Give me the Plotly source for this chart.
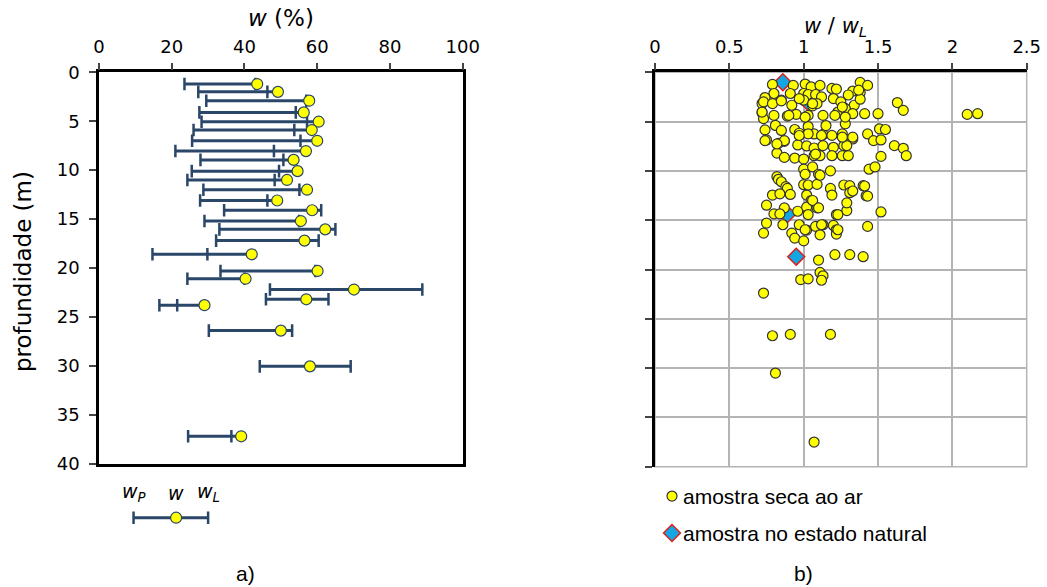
import plotly.graph_objects as go

# ---------------- data: panel a) ----------------
depth_a = [1.2, 2.0, 2.9, 4.1, 5.05, 5.9, 7.0, 8.05, 8.95, 10.1, 11.0, 12.0, 13.1,
           14.1, 15.2, 16.05, 17.2, 18.6, 20.3, 21.1, 22.2, 23.2, 23.8, 26.4, 30.05, 37.2]
w_p = [23.5, 27.3, 29.5, 27.6, 28.2, 26.0, 25.6, 21.0, 27.9, 25.5, 24.3, 28.7, 27.8,
       34.4, 29.0, 33.1, 32.2, 14.7, 33.4, 24.3, 47.0, 45.9, 16.6, 30.2, 44.2, 24.5]
w_nat = [43.5, 49.2, 57.8, 56.3, 60.4, 58.5, 60.0, 56.9, 53.5, 54.6, 51.7, 57.2, 49.0,
         58.6, 55.5, 62.2, 56.5, 42.0, 60.1, 40.3, 70.1, 57.0, 29.0, 50.0, 58.0, 39.1]
w_l = [43.0, 46.3, 57.0, 54.1, 57.2, 53.7, 55.4, 48.1, 50.7, 49.5, 48.3, 55.1, 46.3,
       61.1, 55.0, 65.0, 60.4, 29.8, 59.5, 40.0, 88.9, 63.1, 21.5, 53.1, 69.2, 36.4]

# key sample (wP, w, wL)
key_vals = [9.5, 21.2, 30.0]
key_labels = ["<i>w<sub>P</sub></i>", "<i>w</i>", "<i>w<sub>L</sub></i>"]

# ---------------- data: panel b) ----------------
ratio_air = [0.79, 0.93, 1.01, 1.05, 1.11, 1.19, 1.22, 1.38, 1.43, 1.33, 1.30, 1.38, 0.80, 0.74,
             0.72, 0.85, 0.91, 1.00, 1.03, 1.08, 1.12, 1.00, 0.92, 1.06, 1.09, 1.20, 1.25, 1.27,
             1.34, 1.38, 1.41, 1.50, 1.63, 1.67, 2.10, 2.17, 0.72, 0.73, 0.80, 0.89, 0.95, 1.03,
             1.13, 1.23, 1.28, 1.33, 0.74, 0.75, 0.81, 0.85, 0.87, 0.83, 0.94, 0.97, 1.03, 1.07,
             1.13, 1.19, 1.26, 1.28, 1.33, 1.15, 0.96, 1.02, 1.07, 1.13, 1.20, 1.27, 1.43, 1.51,
             1.55, 1.47, 1.52, 1.61, 1.67, 1.69, 1.52, 0.82, 0.87, 0.94, 1.00, 1.07, 1.11, 1.19,
             1.26, 1.30, 1.00, 1.06, 1.10, 1.18, 1.44, 1.48, 0.82, 0.83, 0.85, 0.88, 1.00, 1.03,
             1.09, 1.18, 1.27, 1.31, 1.40,
             0.89, 0.79, 0.84, 0.91, 1.02, 1.05, 1.19, 1.31, 1.42, 0.75, 0.80, 0.87, 0.84, 0.96,
             1.02, 1.03, 1.09, 1.22, 1.29, 1.29, 1.52, 0.75, 0.73, 0.86, 0.92, 0.94, 0.97, 1.02,
             1.00, 1.08, 1.11, 1.13, 1.20, 1.22, 1.22, 1.43, 1.10, 1.21, 1.31, 1.40, 1.11, 1.13,
             1.12, 0.98, 1.03, 0.73, 0.79, 0.91, 1.18, 0.81, 1.07,
             0.73, 0.72, 0.79, 0.85, 0.97, 1.06, 1.26, 0.90, 1.01, 1.21, 1.28, 1.37,
             0.74, 0.87, 0.82, 1.08, 1.29, 1.26, 1.33, 1.12, 1.03, 0.97, 1.01, 1.11,
             1.06, 1.10, 1.33, 1.41, 1.43, 1.23, 1.12, 1.01, 1.23]
depth_air = [1.23, 1.33, 1.19, 1.47, 1.33, 1.64, 1.70, 1.02, 1.33, 1.90, 2.30, 2.05, 2.15, 2.56,
             3.17, 2.83, 2.15, 2.15, 2.25, 2.25, 2.50, 2.83, 3.34, 3.40, 3.17, 2.66, 3.00, 3.60,
             3.34, 2.73, 4.20, 4.20, 3.07, 3.86, 4.27, 4.20, 4.10, 4.70, 4.37, 4.44, 4.27, 4.37,
             4.37, 4.03, 3.69, 4.20, 5.84, 6.86, 5.39, 5.90, 7.00, 7.20, 5.80, 6.18, 5.50, 6.25,
             6.30, 6.40, 6.25, 5.22, 6.76, 5.40, 7.37, 7.47, 7.68, 7.44, 7.61, 7.44, 6.25, 5.73,
             5.80, 6.93, 6.86, 7.44, 7.71, 8.46, 8.53, 8.19, 8.63, 8.70, 8.80, 8.46, 8.46, 8.46,
             8.46, 8.46, 9.83, 9.60, 10.34, 10.00, 9.83, 9.60, 10.58, 10.85, 11.10, 11.60, 11.40, 11.43,
             11.37, 11.78, 11.43, 11.50, 11.50,
             11.77, 12.45, 12.32, 12.39, 12.45, 13.00, 12.45, 12.21, 12.52, 13.48, 14.36, 13.75, 14.36, 14.09,
             13.68, 14.43, 13.75, 14.43, 14.02, 13.24, 14.16, 15.29, 16.31, 15.46, 16.31, 16.82, 15.46, 16.00,
             17.10, 15.63, 16.48, 15.46, 15.53, 15.97, 16.41, 15.63, 19.04, 18.49, 18.49, 18.70, 20.30, 20.64,
             21.09, 21.02, 20.95, 22.39, 26.72, 26.58, 26.58, 30.50, 37.50,
             3.00, 4.03, 3.18, 2.90, 2.66, 3.18, 3.52, 4.37, 4.54, 4.37, 4.54, 1.81,
             6.93, 6.93, 7.27, 8.29, 7.44, 6.58, 6.58, 6.41, 6.24, 6.41, 10.34, 10.44,
             13.00, 13.75, 12.04, 11.53, 12.56, 14.43, 15.46, 15.97, 15.97]

ratio_nat = [1.04, 0.89, 0.86, 0.95]
depth_nat = [3.2, 14.4, 1.0, 18.7]

legend_labels = ["amostra seca ao ar", "amostra no estado natural"]

# ---------------- styles ----------------
NAVY = "#2a4668"
YELLOW = "#ffff00"
W, H = 1047, 587
TICK_FONT = dict(family="DejaVu Sans", size=18, color="black")
TITLE_FONT = dict(family="DejaVu Sans", size=23, color="black")
TITLE2_FONT = dict(family="DejaVu Sans", size=21, color="black")
TEXT_FONT = dict(family="Liberation Sans", size=21, color="black")

AIR_MARKER = dict(symbol="circle", size=10, color=YELLOW, line=dict(color="#333333", width=1.2))
NAT_MARKER = dict(symbol="diamond", size=13, color="#12a6e2", line=dict(color="#e0201b", width=1.5))


def px_x(p):
    return p / W


def px_y(p):
    return 1 - p / H


fig = go.Figure()

# error-bar style segments (wP .. wL, extended to w)
seg_x, seg_y = [], []
for d, a, b, c in zip(depth_a, w_p, w_nat, w_l):
    seg_x += [min(a, b, c), max(a, b, c), None]
    seg_y += [d, d, None]
fig.add_trace(go.Scatter(x=seg_x, y=seg_y, mode="lines", xaxis="x", yaxis="y",
                         line=dict(color=NAVY, width=3), showlegend=False, hoverinfo="skip"))
fig.add_trace(go.Scatter(x=w_p + w_l, y=depth_a + depth_a, mode="markers", xaxis="x", yaxis="y",
                         marker=dict(symbol="line-ns", size=9, line=dict(color=NAVY, width=2.5)),
                         showlegend=False, hoverinfo="skip"))
fig.add_trace(go.Scatter(x=w_nat, y=depth_a, mode="markers", xaxis="x", yaxis="y",
                         marker=dict(symbol="circle", size=11, color=YELLOW,
                                     line=dict(color=NAVY, width=1.2)),
                         showlegend=False))

# key below panel a)
fig.add_trace(go.Scatter(x=[key_vals[0], key_vals[2]], y=[0.5, 0.5], mode="lines",
                         xaxis="x", yaxis="y3", line=dict(color=NAVY, width=3),
                         showlegend=False, hoverinfo="skip"))
fig.add_trace(go.Scatter(x=[key_vals[0], key_vals[2]], y=[0.5, 0.5], mode="markers",
                         xaxis="x", yaxis="y3",
                         marker=dict(symbol="line-ns", size=9, line=dict(color=NAVY, width=2.5)),
                         showlegend=False, hoverinfo="skip"))
fig.add_trace(go.Scatter(x=[key_vals[1]], y=[0.5], mode="markers", xaxis="x", yaxis="y3",
                         marker=dict(symbol="circle", size=11, color=YELLOW,
                                     line=dict(color=NAVY, width=1.2)),
                         showlegend=False, hoverinfo="skip"))

# panel b)
fig.add_trace(go.Scatter(x=ratio_nat, y=depth_nat, mode="markers", xaxis="x2", yaxis="y2",
                         name=legend_labels[1], marker=NAT_MARKER, showlegend=False))
fig.add_trace(go.Scatter(x=ratio_air, y=depth_air, mode="markers", xaxis="x2", yaxis="y2",
                         name=legend_labels[0], marker=AIR_MARKER, showlegend=False))

# legend for panel b) (symbols on a hidden helper axis, text as annotations)
fig.add_trace(go.Scatter(x=[0], y=[1], mode="markers", xaxis="x4", yaxis="y4",
                         marker=AIR_MARKER, showlegend=False, hoverinfo="skip"))
fig.add_trace(go.Scatter(x=[0], y=[0], mode="markers", xaxis="x4", yaxis="y4",
                         marker=NAT_MARKER, showlegend=False, hoverinfo="skip"))

y_top = px_y(72.3)
fig.update_layout(
    width=W, height=H,
    margin=dict(l=0, r=0, t=0, b=0, autoexpand=False),
    paper_bgcolor="white", plot_bgcolor="white",
    showlegend=False,
    xaxis=dict(domain=[px_x(99), px_x(462.7)], range=[0, 100], dtick=20, side="top",
               anchor="y", showline=True, linecolor="black", linewidth=2.5, mirror=True,
               ticks="outside", ticklen=7, tickwidth=1.5, tickcolor="#444",
               showgrid=False, zeroline=False, tickfont=TICK_FONT, automargin=False,
               ticklabelstandoff=2),
    yaxis=dict(domain=[px_y(463.7), y_top], range=[40, 0], dtick=5, anchor="x",
               showline=True, linecolor="black", linewidth=2.5, mirror=True,
               ticks="outside", ticklen=7, tickwidth=1.5, tickcolor="#444",
               showgrid=False, zeroline=False, tickfont=TICK_FONT, ticklabelstandoff=6,
               automargin=False),
    yaxis3=dict(domain=[px_y(542.7), px_y(492.7)], range=[0, 1], anchor="x", visible=False),
    xaxis2=dict(domain=[px_x(655), px_x(1026.7)], range=[0, 2.5], dtick=0.5, side="top",
                anchor="y2", showline=True, linecolor="black", linewidth=2.5,
                ticks="outside", ticklen=7, tickwidth=1.5, tickcolor="#444",
                showgrid=True, gridcolor="#b4b4b4", gridwidth=1.5, zeroline=False,
                tickfont=TICK_FONT, automargin=False, ticklabelstandoff=2),
    yaxis2=dict(domain=[px_y(466.7), y_top], range=[40, 0], dtick=5, anchor="x2",
                showline=True, linecolor="black", linewidth=2.5, showticklabels=False,
                ticks="outside", ticklen=7, tickwidth=1.5, tickcolor="#444",
                showgrid=True, gridcolor="#b4b4b4", gridwidth=1.5, zeroline=False,
                automargin=False),
    xaxis4=dict(domain=[px_x(662), px_x(682)], range=[-1, 1], anchor="y4", visible=False),
    yaxis4=dict(domain=[px_y(550), px_y(482)], range=[-0.46, 1.38], anchor="x4", visible=False),
)

fig.add_shape(type="rect", xref="x2 domain", yref="y2 domain", x0=0, x1=1, y0=0, y1=1,
              line=dict(color="#b4b4b4", width=1.5), layer="below")

C = dict(xanchor="center", yanchor="middle", showarrow=False)
ann = [
    dict(text="<i>w</i> (%)", x=0.5, xref="x domain", y=px_y(18), yref="paper",
         font=TITLE_FONT, **C),
    dict(text="<i>w</i> / <i>w<sub>L</sub></i>", x=px_x(835), xref="paper", y=px_y(27),
         yref="paper", font=TITLE2_FONT, **C),
    dict(text="profundidade (m)", x=px_x(23), xref="paper", y=px_y(272), yref="paper",
         textangle=-90, font=TITLE_FONT, **C),
    dict(text="a)", x=px_x(245), xref="paper", y=px_y(573), yref="paper",
         font=TEXT_FONT, **C),
    dict(text="b)", x=px_x(803), xref="paper", y=px_y(573), yref="paper",
         font=TEXT_FONT, **C),
    dict(text=legend_labels[0], x=px_x(681), xref="paper", y=1, yref="y4",
         xanchor="left", yanchor="middle", showarrow=False, font=TEXT_FONT),
    dict(text=legend_labels[1], x=px_x(681), xref="paper", y=0, yref="y4",
         xanchor="left", yanchor="middle", showarrow=False, font=TEXT_FONT),
]
for v, t in zip(key_vals, key_labels):
    ann.append(dict(text=t, x=v, xref="x", y=1.0, yref="y3",
                    font=dict(family="DejaVu Sans", size=19, color="black"), **C))
fig.update_layout(annotations=ann)

fig.write_html("out.html")
